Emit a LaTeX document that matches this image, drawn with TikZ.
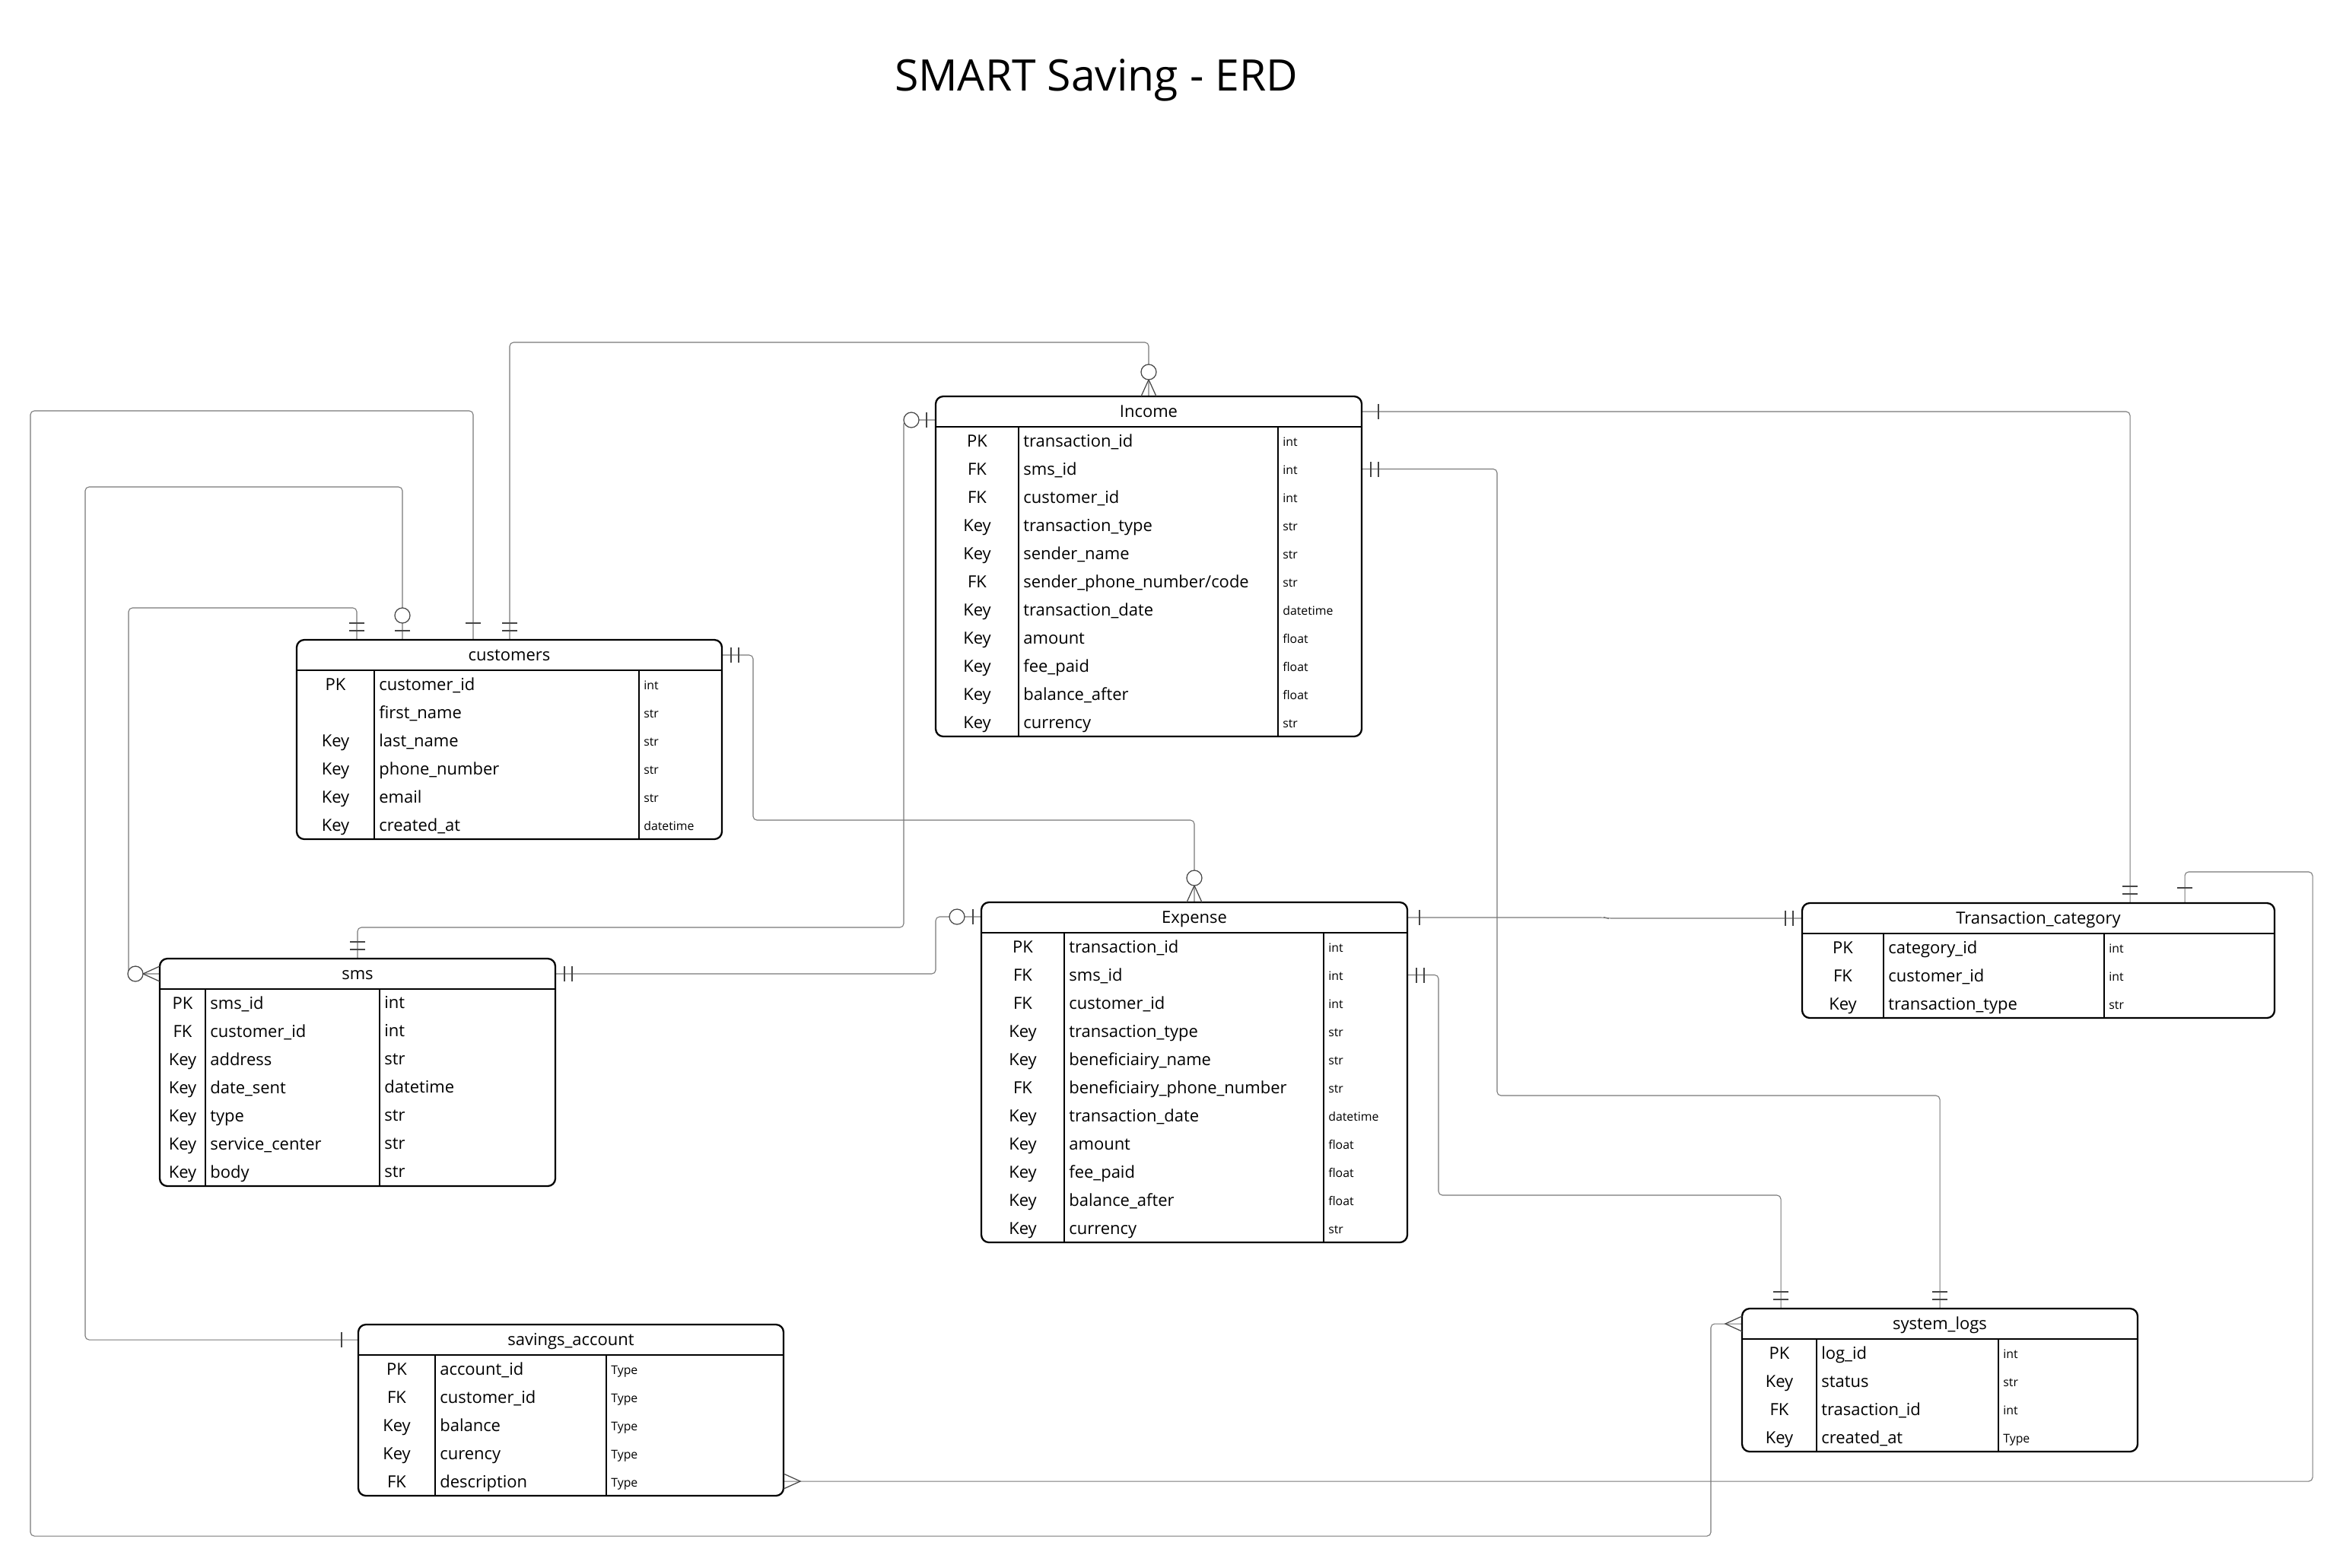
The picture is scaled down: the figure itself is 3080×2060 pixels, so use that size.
\documentclass[tikz,border=0pt]{standalone}
\usepackage{fontspec}
\setmainfont{Open Sans}
\usetikzlibrary{calc}
\definecolor{conncol}{RGB}{120,120,120}
\definecolor{mkcol}{RGB}{70,70,70}
\newcommand\mainf{\fontsize{12.5}{15}\selectfont}
\newcommand\smallf{\fontsize{9}{11}\selectfont}
\newcommand\titlef{\fontsize{32.5}{39}\selectfont}
\newcommand\erdnone{}
\newcommand\erdslash{/}
\newcommand\erdgeom[6]{\def\erdL{#1}\def\erdT{#2}\def\erdR{#3}\def\erdA{#4}\def\erdC{#5}\def\erdN{#6}}
\newcommand\erdtable[4]{%
  \pgfmathsetmacro\erdB{\erdT+40+37*\erdN}%
  \pgfmathsetmacro\erdW{(\erdR-\erdL)*0.02}%
  \pgfmathsetmacro\erdHt{(\erdB-\erdT)*0.02}%
  \node[tbl, minimum width=\erdW cm, minimum height=\erdHt cm, anchor=north west] (#1) at (\erdL,\erdT) {};
  \draw[tblline] (\erdL,\erdT+40) -- (\erdR,\erdT+40);
  \draw[tblline] (\erdA,\erdT+40) -- (\erdA,\erdB);
  \draw[tblline] (\erdC,\erdT+40) -- (\erdC,\erdB);
  \node[anchor=base, font=\mainf, inner sep=0pt] (#1-title) at ({(\erdL+\erdR)/2},\erdT+27.5) {#2};
  \foreach \rk/\rn/\rt [count=\ri] in {#4} {
    \pgfmathsetmacro\yc{\erdT+40+37*(\ri-0.5)}
    \node[anchor=base, font=\mainf, inner sep=0pt] (#1-k\ri) at ({(\erdL+\erdA)/2},\yc+7.5) {\rk};
    \node[anchor=base west, font=\mainf, inner sep=0pt] (#1-n\ri) at (\erdA+6,\yc+7.5) {\rn};
    \node[anchor=base west, font=#3, inner sep=0pt] (#1-t\ri) at (\erdC+6,\yc+6.5) {\rt};
  }%
}
% markers: coordinate, dx, dy (direction away from the box), distance
\newcommand\mkbar[4]{\draw[mk] ($(#1)+({(#2)*#4-(#3)*10},{(#3)*#4+(#2)*10})$) -- ($(#1)+({(#2)*#4+(#3)*10},{(#3)*#4-(#2)*10})$);}
\newcommand\mkdbar[3]{\mkbar{#1}{#2}{#3}{12}\mkbar{#1}{#2}{#3}{22}}
\newcommand\mkcrow[3]{\draw[mk] ($(#1)+({-(#3)*10},{(#2)*10})$) -- ($(#1)+({(#2)*22},{(#3)*22})$) -- ($(#1)+({(#3)*10},{-(#2)*10})$);}
\newcommand\mkcirc[3]{\draw[mk, fill=white] ($(#1)+({(#2)*32},{(#3)*32})$) circle[radius=0.2cm];}
\begin{document}
\begin{tikzpicture}[x=0.02cm,y=-0.02cm,
  tbl/.style={draw=black, line width=1.3pt, rounded corners=0.2cm, inner sep=0pt, outer sep=0pt},
  tblline/.style={draw=black, line width=1.3pt},
  conn/.style={draw=conncol, line width=0.6pt, rounded corners=0.1cm},
  mk/.style={draw=mkcol, line width=0.7pt}]
\fill[white] (0,0) rectangle (3080,2060);
\useasboundingbox (0,0) rectangle (3080,2060);

\node[anchor=base, font=\titlef, inner sep=0pt] (title) at (1441,119) {SMART Saving - ERD};

% connection points
\coordinate (cA) at (622,841);
\coordinate (cB) at (529,841);
\coordinate (cC) at (469,841);
\coordinate (cD) at (670,841);
\coordinate (cE) at (949,861);
\coordinate (iT) at (1510,521);
\coordinate (iL) at (1230,552);
\coordinate (iR1) at (1790,541);
\coordinate (iR2) at (1790,616.5);
\coordinate (eT) at (1570,1186);
\coordinate (eL) at (1290,1205);
\coordinate (eR1) at (1850,1206);
\coordinate (eR2) at (1850,1281.5);
\coordinate (tT1) at (2800,1187);
\coordinate (tT2) at (2872,1187);
\coordinate (tL) at (2369,1207);
\coordinate (sT) at (470,1260);
\coordinate (sL) at (210,1280);
\coordinate (sR) at (730,1280);
\coordinate (vL) at (471,1761);
\coordinate (vR) at (1030,1947);
\coordinate (lL) at (2290,1740);
\coordinate (lT1) at (2341,1720);
\coordinate (lT2) at (2550,1720);

% connectors
\draw[conn] (cA) |- (40,540) |- (2249,2019) |- (lL);
\draw[conn] (cB) |- (112,640) |- (vL);
\draw[conn] (cC) |- (169,799) |- (sL);
\draw[conn] (cD) |- (1510,450) -- (iT);
\draw[conn] (cE) -| (990,1078) -| (eT);
\draw[conn] (sT) |- (1188,1219) |- (iL);
\draw[conn] (sR) -| (1230,1205) -- (eL);
\draw[conn] (iR1) -| (tT1);
\draw[conn] (tT2) |- (3040,1146) |- (vR);
\draw[conn] (eR1) -- (2110,1206) -- (2113,1207) -- (tL);
\draw[conn] (iR2) -| (1968,1440) -| (lT2);
\draw[conn] (eR2) -| (1891,1571) -| (lT1);

% tables
\erdgeom{390}{841}{949}{492}{840}{6}
\erdtable{customers}{customers}{\smallf}{PK/customer\_id/int,\erdnone/first\_name/str,Key/last\_name/str,Key/phone\_number/str,Key/email/str,Key/created\_at/datetime}

\erdgeom{1230}{521}{1790}{1339}{1680}{11}
\erdtable{income}{Income}{\smallf}{PK/transaction\_id/int,FK/sms\_id/int,FK/customer\_id/int,Key/transaction\_type/str,Key/sender\_name/str,FK/sender\_phone\_number\erdslash{}code/str,Key/transaction\_date/datetime,Key/amount/float,Key/fee\_paid/float,Key/balance\_after/float,Key/currency/str}

\erdgeom{1290}{1186}{1850}{1399}{1740}{11}
\erdtable{expense}{Expense}{\smallf}{PK/transaction\_id/int,FK/sms\_id/int,FK/customer\_id/int,Key/transaction\_type/str,Key/beneficiairy\_name/str,FK/beneficiairy\_phone\_number/str,Key/transaction\_date/datetime,Key/amount/float,Key/fee\_paid/float,Key/balance\_after/float,Key/currency/str}

\erdgeom{2369}{1187}{2990}{2476}{2766}{3}
\erdtable{tcat}{Transaction\_category}{\smallf}{PK/category\_id/int,FK/customer\_id/int,Key/transaction\_type/str}

\erdgeom{210}{1260}{730}{270}{499}{7}
\erdtable{sms}{sms}{\mainf}{PK/sms\_id/int,FK/customer\_id/int,Key/address/str,Key/date\_sent/datetime,Key/type/str,Key/service\_center/str,Key/body/str}

\erdgeom{471}{1741}{1030}{572}{797}{5}
\erdtable{savings}{savings\_account}{\smallf}{PK/account\_id/Type,FK/customer\_id/Type,Key/balance/Type,Key/curency/Type,FK/description/Type}

\erdgeom{2290}{1720}{2810}{2388}{2627}{4}
\erdtable{syslogs}{system\_logs}{\smallf}{PK/log\_id/int,Key/status/str,FK/trasaction\_id/int,Key/created\_at/Type}

% markers
\mkbar{cA}{0}{-1}{22}
\mkcrow{lL}{-1}{0}
\mkbar{cB}{0}{-1}{12}\mkcirc{cB}{0}{-1}
\mkbar{vL}{-1}{0}{22}
\mkdbar{cC}{0}{-1}
\mkcrow{sL}{-1}{0}\mkcirc{sL}{-1}{0}
\mkdbar{cD}{0}{-1}
\mkcrow{iT}{0}{-1}\mkcirc{iT}{0}{-1}
\mkdbar{cE}{1}{0}
\mkcrow{eT}{0}{-1}\mkcirc{eT}{0}{-1}
\mkdbar{sT}{0}{-1}
\mkbar{iL}{-1}{0}{12}\mkcirc{iL}{-1}{0}
\mkdbar{sR}{1}{0}
\mkbar{eL}{-1}{0}{11}\mkcirc{eL}{-1}{0}
\mkbar{iR1}{1}{0}{22}
\mkdbar{tT1}{0}{-1}
\mkbar{tT2}{0}{-1}{20}
\mkcrow{vR}{1}{0}
\mkbar{eR1}{1}{0}{16}
\mkdbar{tL}{-1}{0}
\mkdbar{iR2}{1}{0}
\mkdbar{lT2}{0}{-1}
\mkdbar{eR2}{1}{0}
\mkdbar{lT1}{0}{-1}
\end{tikzpicture}
\end{document}
